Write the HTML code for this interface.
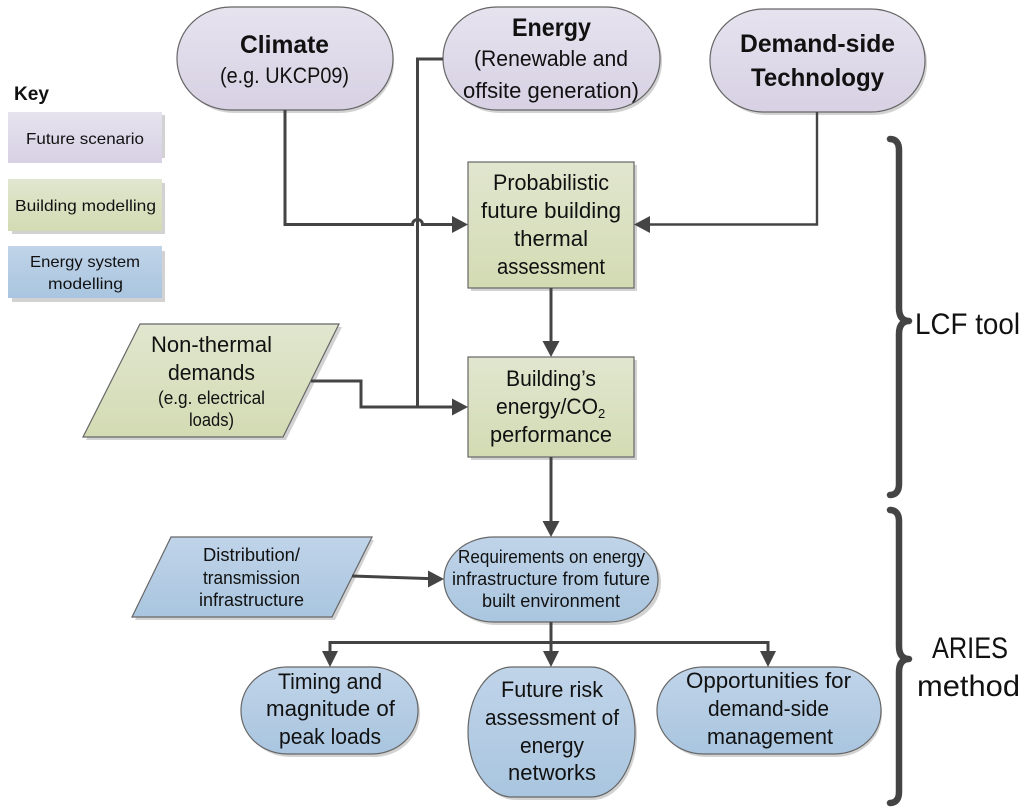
<!DOCTYPE html>
<html><head><meta charset="utf-8">
<style>
html,body{margin:0;padding:0;background:#fff;width:1024px;height:812px;overflow:hidden}
svg{display:block}
text{font-family:"Liberation Sans",sans-serif;fill:#111;text-anchor:start}
.s{stroke:#666;stroke-width:1.2}
.sh{fill:#d2d2d2}
.l{fill:none;stroke:#444;stroke-width:3}
.a{fill:#444}
</style></head><body>
<svg width="1024" height="812" viewBox="0 0 1024 812" xmlns="http://www.w3.org/2000/svg">
<defs>
<linearGradient id="p" x1="0" y1="0" x2="0" y2="1"><stop offset="0" stop-color="#e6e3ef"/><stop offset="1" stop-color="#d7d1e3"/></linearGradient>
<linearGradient id="g" x1="0" y1="0" x2="0" y2="1"><stop offset="0" stop-color="#e1e6cf"/><stop offset="1" stop-color="#d3dbb3"/></linearGradient>
<linearGradient id="b" x1="0" y1="0" x2="0" y2="1"><stop offset="0" stop-color="#c0d4e9"/><stop offset="1" stop-color="#a9c5df"/></linearGradient>
</defs>

<!-- shadows -->
<g class="sh">
<rect x="12" y="115" width="153" height="43"/>
<rect x="12" y="183" width="153" height="51"/>
<rect x="12" y="251" width="153" height="51"/>
<rect x="180" y="10" width="214" height="103" rx="54" ry="51"/>
<rect x="446" y="10" width="216" height="103" rx="54" ry="51"/>
<rect x="713" y="12" width="214" height="103" rx="54" ry="51"/>
<rect x="471" y="165" width="166" height="126"/>
<rect x="471" y="360" width="166" height="100"/>
<polygon points="143,327 342,327 286,440 86,440"/>
<polygon points="174,540 374,540 335,620 135,620"/>
<rect x="447" y="540" width="214" height="85" rx="50" ry="42"/>
<rect x="244" y="670" width="176" height="87" rx="46" ry="43"/>
<rect x="471" y="670" width="166" height="130" rx="44" ry="65"/>
<rect x="660" y="670" width="222" height="87" rx="46" ry="43"/>
</g>

<!-- key -->
<rect x="8" y="112" width="154" height="51" fill="url(#p)"/>
<rect x="8" y="179" width="154" height="52" fill="url(#g)"/>
<rect x="8" y="246" width="154" height="52" fill="url(#b)"/>

<!-- nodes -->
<g class="s">
<rect x="177" y="7" width="216" height="103" rx="54" ry="51" fill="url(#p)"/>
<rect x="443" y="7" width="217" height="103" rx="54" ry="51" fill="url(#p)"/>
<rect x="710" y="9" width="215" height="103" rx="54" ry="51" fill="url(#p)"/>
<rect x="468" y="162" width="166" height="126" fill="url(#g)"/>
<rect x="468" y="357" width="166" height="100" fill="url(#g)"/>
<polygon points="140,324 339,324 283,437 83,437" fill="url(#g)"/>
<polygon points="171,537 372,537 332,617 132,617" fill="url(#b)"/>
<rect x="444" y="537" width="214" height="85" rx="50" ry="42" fill="url(#b)"/>
<rect x="241" y="667" width="177" height="87" rx="46" ry="43" fill="url(#b)"/>
<rect x="468" y="667" width="167" height="130" rx="44" ry="65" fill="url(#b)"/>
<rect x="657" y="667" width="224" height="87" rx="46" ry="43" fill="url(#b)"/>
</g>

<!-- connectors -->
<path class="l" d="M443 59H417.500V407"/>
<path class="l" d="M285 110V224.500H412.500a5 5 0 0 1 10 0H455"/>
<path class="l" style="stroke-width:2.400" d="M817 112V224.500H648"/>
<path class="l" d="M551 288V345"/>
<path class="l" d="M311 381H361V407H455"/>
<path class="l" d="M551 457V525"/>
<path class="l" d="M352 576L430 578.600"/>
<path class="l" d="M551 622V655M330 655V642.500H768V655"/>
<g class="a">
<polygon points="468,224.500 452,216 452,233"/>
<polygon points="634,224.500 650,216 650,233"/>
<polygon points="551,357 542.500,341 559.500,341"/>
<polygon points="468,407 452,398.500 452,415.500"/>
<polygon points="551,537 542.500,521 559.500,521"/>
<polygon points="444,579 428,570.500 428,587.500"/>
<polygon points="330,667 322,651 338,651"/>
<polygon points="551,667 543,651 559,651"/>
<polygon points="768,667 760,651 776,651"/>
</g>

<!-- braces -->
<path fill="none" stroke="#444" stroke-width="6.500" stroke-linecap="round" stroke-linejoin="round" d="M890 139C896 139 899 143 899 150V308C899 316 902 321 909 321C902 321 899 326 899 334V484C899 491 896 495 890 495"/>
<path fill="none" stroke="#444" stroke-width="6.500" stroke-linecap="round" stroke-linejoin="round" d="M890 510C896 510 899 514 899 521V646C899 654 902 659 909 659C902 659 899 664 899 672V792C899 799 896 803 890 803"/>

<!-- labels -->
<g font-size="25" font-weight="bold">
<text x="240" y="53" textLength="89" lengthAdjust="spacingAndGlyphs">Climate</text>
<text x="512" y="36" textLength="79" lengthAdjust="spacingAndGlyphs">Energy</text>
<text x="740" y="52" textLength="155" lengthAdjust="spacingAndGlyphs">Demand-side</text>
<text x="751" y="86" textLength="133" lengthAdjust="spacingAndGlyphs">Technology</text>
</g>
<text x="220" y="83" font-size="22" textLength="129" lengthAdjust="spacingAndGlyphs">(e.g. UKCP09)</text>
<text x="474" y="66" font-size="22" textLength="154" lengthAdjust="spacingAndGlyphs">(Renewable and</text>
<text x="463" y="98" font-size="22" textLength="176" lengthAdjust="spacingAndGlyphs">offsite generation)</text>

<text x="14" y="100" font-size="19" font-weight="bold" textLength="35" lengthAdjust="spacingAndGlyphs">Key</text>
<text x="26" y="144" font-size="16" textLength="118" lengthAdjust="spacingAndGlyphs">Future scenario</text>
<text x="15" y="211" font-size="16" textLength="141" lengthAdjust="spacingAndGlyphs">Building modelling</text>
<text x="30" y="267" font-size="16" textLength="110" lengthAdjust="spacingAndGlyphs">Energy system</text>
<text x="48" y="289" font-size="16" textLength="75" lengthAdjust="spacingAndGlyphs">modelling</text>

<g font-size="22">
<text x="493" y="190" textLength="116" lengthAdjust="spacingAndGlyphs">Probabilistic</text>
<text x="481" y="218" textLength="140" lengthAdjust="spacingAndGlyphs">future building</text>
<text x="514" y="246" textLength="74" lengthAdjust="spacingAndGlyphs">thermal</text>
<text x="497" y="274" textLength="108" lengthAdjust="spacingAndGlyphs">assessment</text>
<text x="506" y="386" textLength="90" lengthAdjust="spacingAndGlyphs">Building’s</text>
<text x="496" y="414" textLength="102" lengthAdjust="spacingAndGlyphs">energy/CO</text>
<text x="598" y="418" font-size="13">2</text>
<text x="490" y="442" textLength="122" lengthAdjust="spacingAndGlyphs">performance</text>
<text x="151" y="352" textLength="121" lengthAdjust="spacingAndGlyphs">Non-thermal</text>
<text x="168" y="380" textLength="87" lengthAdjust="spacingAndGlyphs">demands</text>
<text x="278" y="689" textLength="104" lengthAdjust="spacingAndGlyphs">Timing and</text>
<text x="266" y="716" textLength="129" lengthAdjust="spacingAndGlyphs">magnitude of</text>
<text x="279" y="744" textLength="102" lengthAdjust="spacingAndGlyphs">peak loads</text>
<text x="501" y="697" textLength="102" lengthAdjust="spacingAndGlyphs">Future risk</text>
<text x="485" y="725" textLength="134" lengthAdjust="spacingAndGlyphs">assessment of</text>
<text x="520" y="753" textLength="64" lengthAdjust="spacingAndGlyphs">energy</text>
<text x="508" y="780" textLength="88" lengthAdjust="spacingAndGlyphs">networks</text>
<text x="686" y="688" textLength="165" lengthAdjust="spacingAndGlyphs">Opportunities for</text>
<text x="708" y="716" textLength="121" lengthAdjust="spacingAndGlyphs">demand-side</text>
<text x="707" y="744" textLength="126" lengthAdjust="spacingAndGlyphs">management</text>
</g>
<g font-size="18">
<text x="158" y="404" textLength="107" lengthAdjust="spacingAndGlyphs">(e.g. electrical</text>
<text x="189" y="426" textLength="45" lengthAdjust="spacingAndGlyphs">loads)</text>
<text x="203" y="561" textLength="97" lengthAdjust="spacingAndGlyphs">Distribution/</text>
<text x="203" y="584" textLength="97" lengthAdjust="spacingAndGlyphs">transmission</text>
<text x="199" y="606" textLength="105" lengthAdjust="spacingAndGlyphs">infrastructure</text>
<text x="458" y="563" textLength="187" lengthAdjust="spacingAndGlyphs">Requirements on energy</text>
<text x="452" y="585" textLength="198" lengthAdjust="spacingAndGlyphs">infrastructure from future</text>
<text x="482" y="607" textLength="138" lengthAdjust="spacingAndGlyphs">built environment</text>
</g>
<g font-size="30">
<text x="915" y="334" textLength="105" lengthAdjust="spacingAndGlyphs">LCF tool</text>
<text x="932" y="658" textLength="76" lengthAdjust="spacingAndGlyphs">ARIES</text>
<text x="917" y="696" textLength="103" lengthAdjust="spacingAndGlyphs">method</text>
</g>
</svg>
</body></html>
